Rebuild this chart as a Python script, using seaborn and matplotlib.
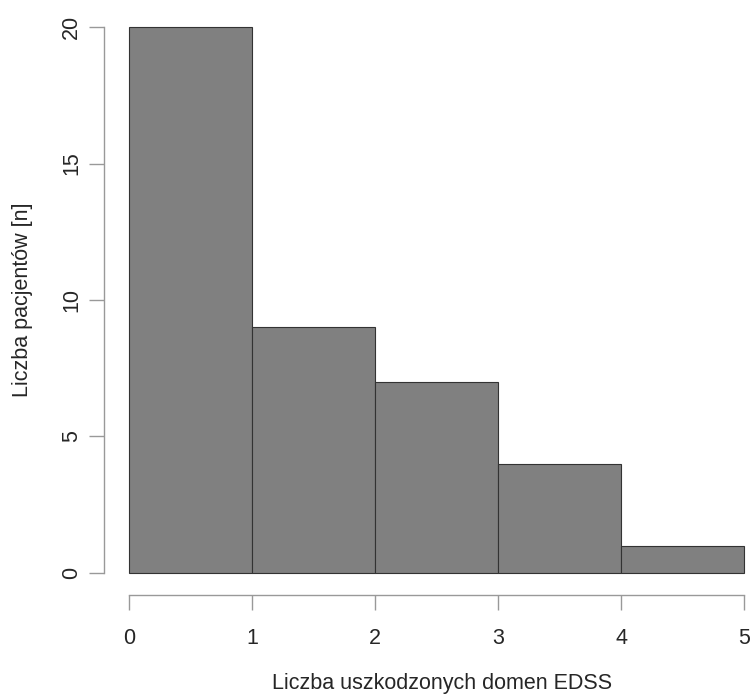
import numpy as np
import matplotlib
matplotlib.use('Agg')
import matplotlib.pyplot as plt
import seaborn as sns

# bin edges and patient counts per bin
bin_edges = [0, 1, 2, 3, 4, 5]
bin_left = [0, 1, 2, 3, 4]
counts = [20, 9, 7, 4, 1]
x_ticks = [0, 1, 2, 3, 4, 5]
y_ticks = [0, 5, 10, 15, 20]

sns.set_style('white')
plt.rcParams['font.family'] = ['Liberation Sans', 'DejaVu Sans']

fig = plt.figure(figsize=(7.54, 6.98), dpi=100)
ax = fig.add_axes([104.4 / 754, 1 - 594.8 / 698, 664.2 / 754, 589.6 / 698])

sns.histplot(x=bin_left, weights=counts, bins=bin_edges, ax=ax,
             color='#808080', edgecolor='#333333', linewidth=0.8, alpha=1)

ax.set_xlim(-0.2, 5.2)
ax.set_ylim(-0.8, 20.8)
ax.set_xticks(x_ticks)
ax.set_yticks(y_ticks)

for s in ['top', 'right']:
    ax.spines[s].set_visible(False)
ax.spines['left'].set_bounds(0, 20)
ax.spines['bottom'].set_bounds(0, 5)
for s in ['left', 'bottom']:
    ax.spines[s].set_color('#999999')
    ax.spines[s].set_linewidth(1)

ax.tick_params(axis='both', direction='out', length=11, width=1, color='#999999',
               labelsize=15.5)
ax.tick_params(axis='x', pad=13)
ax.tick_params(axis='y', pad=5)
ax.tick_params(axis='both', which='both', bottom=True, left=True)
plt.setp(ax.get_yticklabels(), rotation=90, va='center')

ax.set_xlabel('Liczba uszkodzonych domen EDSS', fontsize=15.5, va='center')
ax.set_ylabel('Liczba pacjentów [n]', fontsize=15.5, va='center')
ax.xaxis.set_label_coords(0.509, -0.1496)
ax.yaxis.set_label_coords(-0.124, 0.5)

fig.savefig('out.png', dpi=100)
